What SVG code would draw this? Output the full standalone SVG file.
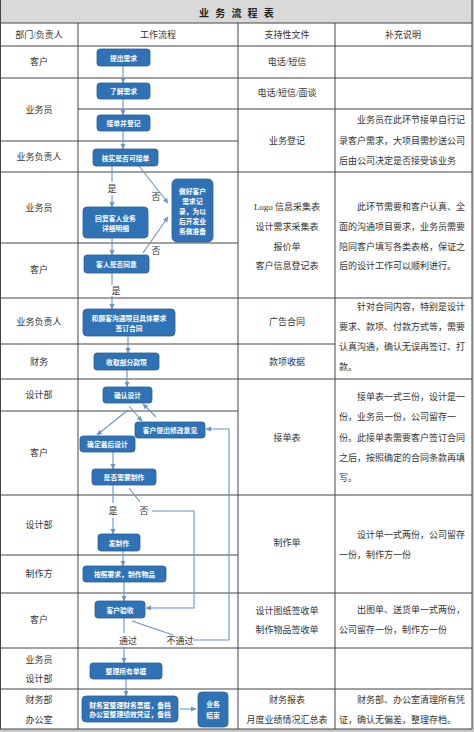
<svg xmlns="http://www.w3.org/2000/svg" width="474" height="732" viewBox="0 0 474 732">
<style>
.t{font-family:"Liberation Serif","Noto Sans CJK SC",serif;font-size:9px;fill:#333;dominant-baseline:central}
.c{text-anchor:middle}
.b rect{fill:#2f72b5;stroke:#285f98;stroke-width:0.8}
.b text{font-family:"Noto Sans CJK SC",sans-serif;font-size:6.8px;font-weight:bold;fill:#fff;text-anchor:middle;dominant-baseline:central}
.g line,.g polyline{stroke:#6b94c2;stroke-width:1.1;fill:none}
.ln{stroke:#444;stroke-width:1}
.lb{font-family:"Liberation Serif","Noto Sans CJK SC",serif;font-size:9px;fill:#333;text-anchor:middle;dominant-baseline:central}
</style>
<defs>
<marker id="ar" markerWidth="6" markerHeight="6" refX="5" refY="3" orient="auto" markerUnits="userSpaceOnUse">
<path d="M0,0.5 L5.5,3 L0,5.5 Z" fill="#6b94c2"/>
</marker>
</defs>
<rect x="0" y="0" width="474" height="732" fill="#ffffff"/>
<rect x="0" y="0" width="472" height="23" fill="#d9d9d9"/>
<rect x="472" y="0" width="2" height="732" fill="#c8c8c8"/>
<rect x="0" y="729" width="474" height="3" fill="#c8c8c8"/>
<g id="table">
<line class="ln" x1="0.5" y1="0" x2="0.5" y2="729"/>
<line class="ln" x1="0" y1="23" x2="472" y2="23"/>
<line class="ln" x1="0" y1="46" x2="472" y2="46"/>
<line class="ln" x1="0" y1="78" x2="472" y2="78"/>
<line class="ln" x1="78" y1="109" x2="472" y2="109"/>
<line class="ln" x1="0" y1="141" x2="238" y2="141"/>
<line class="ln" x1="0" y1="172" x2="472" y2="172"/>
<line class="ln" x1="0" y1="243" x2="238" y2="243"/>
<line class="ln" x1="0" y1="298" x2="472" y2="298"/>
<line class="ln" x1="0" y1="344" x2="335" y2="344"/>
<line class="ln" x1="0" y1="379" x2="472" y2="379"/>
<line class="ln" x1="0" y1="411" x2="238" y2="411"/>
<line class="ln" x1="0" y1="495" x2="472" y2="495"/>
<line class="ln" x1="0" y1="555" x2="238" y2="555"/>
<line class="ln" x1="0" y1="593" x2="472" y2="593"/>
<line class="ln" x1="0" y1="648" x2="472" y2="648"/>
<line class="ln" x1="0" y1="689" x2="472" y2="689"/>
<line class="ln" x1="0" y1="729" x2="472" y2="729"/>
<line class="ln" x1="78" y1="23" x2="78" y2="729"/>
<line class="ln" x1="238" y1="23" x2="238" y2="729"/>
<line class="ln" x1="335" y1="23" x2="335" y2="729"/>
<line class="ln" x1="472" y1="0" x2="472" y2="729"/>
</g>
<g id="title">
<text x="199" y="12" style="font-family:'Noto Sans CJK SC',sans-serif;font-size:10px;font-weight:bold;fill:#222;dominant-baseline:central;letter-spacing:6.2px">业务流程表</text>
</g>
<g id="header">
<text class="t c" x="39" y="35">部门/负责人</text>
<text class="t c" x="158" y="35">工作流程</text>
<text class="t c" x="287" y="35">支持性文件</text>
<text class="t c" x="403" y="35">补充说明</text>
</g>
<g id="departments">
<text class="t c" x="39" y="62">客户</text>
<text class="t c" x="39" y="110">业务员</text>
<text class="t c" x="39" y="157">业务负责人</text>
<text class="t c" x="39" y="208">业务员</text>
<text class="t c" x="39" y="270">客户</text>
<text class="t c" x="39" y="322">业务负责人</text>
<text class="t c" x="39" y="362">财务</text>
<text class="t c" x="39" y="395">设计部</text>
<text class="t c" x="39" y="453">客户</text>
<text class="t c" x="39" y="525">设计部</text>
<text class="t c" x="39" y="574">制作方</text>
<text class="t c" x="39" y="620">客户</text>
<text class="t c" x="39" y="660">业务员</text>
<text class="t c" x="39" y="679">设计部</text>
<text class="t c" x="39" y="700">财务部</text>
<text class="t c" x="39" y="720">办公室</text>
</g>
<g id="documents">
<text class="t c" x="287" y="62">电话/短信</text>
<text class="t c" x="287" y="93">电话/短信/面谈</text>
<text class="t c" x="287" y="141">业务登记</text>
<text class="t c" x="287" y="207">Logo 信息采集表</text>
<text class="t c" x="287" y="227">设计需求采集表</text>
<text class="t c" x="287" y="247">报价单</text>
<text class="t c" x="287" y="266">客户信息登记表</text>
<text class="t c" x="287" y="322">广告合同</text>
<text class="t c" x="287" y="362">款项收据</text>
<text class="t c" x="287" y="438">接单表</text>
<text class="t c" x="287" y="543">制作单</text>
<text class="t c" x="287" y="611">设计图纸签收单</text>
<text class="t c" x="287" y="630">制作物品签收单</text>
<text class="t c" x="287" y="700">财务报表</text>
<text class="t c" x="287" y="720">月度业绩情况汇总表</text>
</g>
<g id="notes">
<text class="t" x="357" y="120">业务员在此环节接单自行记</text>
<text class="t" x="339" y="141">录客户需求，大项目需抄送公司</text>
<text class="t" x="339" y="161">后由公司决定是否接受该业务</text>
<text class="t" x="357" y="207">此环节需要和客户认真、全</text>
<text class="t" x="339" y="227">面的沟通项目要求，业务员需要</text>
<text class="t" x="339" y="247">陪同客户填写各类表格，保证之</text>
<text class="t" x="339" y="266">后的设计工作可以顺利进行。</text>
<text class="t" x="357" y="307">针对合同内容，特别是设计</text>
<text class="t" x="339" y="327">要求、款项、付款方式等，需要</text>
<text class="t" x="339" y="347">认真沟通，确认无误再签订、打</text>
<text class="t" x="339" y="367">款。</text>
<text class="t" x="357" y="397">接单表一式三份，设计是一</text>
<text class="t" x="339" y="417">份，业务员一份，公司留存一</text>
<text class="t" x="339" y="438">份。此接单表需要客户签订合同</text>
<text class="t" x="339" y="458">之后，按照确定的合同条款再填</text>
<text class="t" x="339" y="478">写。</text>
<text class="t" x="357" y="535">设计单一式两份，公司留存</text>
<text class="t" x="339" y="555">一份，制作方一份</text>
<text class="t" x="357" y="610">出图单、送货单一式两份，</text>
<text class="t" x="339" y="630">公司留存一份，制作方一份</text>
<text class="t" x="357" y="700">财务部、办公室清理所有凭</text>
<text class="t" x="339" y="720">证，确认无偏差，整理存档。</text>
</g>
<g id="connectors" class="g">
<line x1="123" y1="66" x2="123" y2="83" marker-end="url(#ar)"/>
<line x1="123" y1="99" x2="123" y2="115" marker-end="url(#ar)"/>
<line x1="123" y1="131" x2="123" y2="149" marker-end="url(#ar)"/>
<line x1="112" y1="166" x2="112" y2="182"/>
<line x1="112" y1="195" x2="112" y2="207" marker-end="url(#ar)"/>
<line x1="139" y1="166" x2="168" y2="203" marker-end="url(#ar)"/>
<line x1="112" y1="238" x2="112" y2="255" marker-end="url(#ar)"/>
<line x1="143" y1="253" x2="168" y2="217" marker-end="url(#ar)"/>
<line x1="112" y1="273" x2="112" y2="285"/>
<line x1="112" y1="296" x2="112" y2="309" marker-end="url(#ar)"/>
<line x1="128" y1="336" x2="128" y2="353" marker-end="url(#ar)"/>
<line x1="127" y1="370" x2="127" y2="387" marker-end="url(#ar)"/>
<line x1="129" y1="406" x2="142" y2="421" marker-end="url(#ar)"/>
<line x1="156" y1="417" x2="143" y2="404" marker-end="url(#ar)"/>
<line x1="128" y1="410" x2="97" y2="435" marker-end="url(#ar)"/>
<line x1="113" y1="452" x2="113" y2="469" marker-end="url(#ar)"/>
<line x1="113" y1="485" x2="113" y2="503"/>
<line x1="113" y1="518" x2="113" y2="534" marker-end="url(#ar)"/>
<line x1="129" y1="488" x2="140" y2="502"/>
<polyline points="152,511 194,511 194,608 146,608" marker-end="url(#ar)"/>
<line x1="123" y1="551" x2="123" y2="566" marker-end="url(#ar)"/>
<line x1="124" y1="582" x2="124" y2="601" marker-end="url(#ar)"/>
<line x1="124" y1="618" x2="124" y2="633"/>
<line x1="132" y1="621" x2="173" y2="635"/>
<polyline points="193,640 229,640 229,429 206,429" marker-end="url(#ar)"/>
<line x1="124" y1="647" x2="124" y2="663" marker-end="url(#ar)"/>
<line x1="126" y1="679" x2="126" y2="696" marker-end="url(#ar)"/>
<line x1="180" y1="709" x2="196" y2="709" marker-end="url(#ar)"/>
</g>
<g id="labels">
<text class="lb" x="112" y="189">是</text>
<text class="lb" x="156" y="197">否</text>
<text class="lb" x="156" y="251">否</text>
<text class="lb" x="116" y="291">是</text>
<text class="lb" x="113" y="511">是</text>
<text class="lb" x="144" y="511">否</text>
<text class="lb" x="128" y="641">通过</text>
<text class="lb" x="180" y="641">不通过</text>
</g>
<g id="n1" class="b"><rect x="97" y="49" width="53" height="17" rx="3"/><text x="123.5" y="57.5">提出需求</text></g>
<g id="n2" class="b"><rect x="97" y="83" width="53" height="16" rx="3"/><text x="123.5" y="91">了解需求</text></g>
<g id="n3" class="b"><rect x="97" y="115" width="53" height="16" rx="3"/><text x="123.5" y="123">接单并登记</text></g>
<g id="n4" class="b"><rect x="93" y="149" width="65" height="17" rx="3"/><text x="125.5" y="157.5">核实是否可接单</text></g>
<g id="n5" class="b"><rect x="83" y="207" width="65" height="31" rx="4"/><text x="115.5" y="218">回复客人业务</text><text x="115.5" y="228">详细明细</text></g>
<g id="n6" class="b"><rect x="84" y="255" width="65" height="18" rx="3"/><text x="116.5" y="264">客人是否同意</text></g>
<g id="n7" class="b"><rect x="172" y="179" width="41" height="63" rx="5"/><text x="192.5" y="191">做好客户</text><text x="192.5" y="201">需求记</text><text x="192.5" y="211">录，为以</text><text x="192.5" y="221">后开发业</text><text x="192.5" y="231">务做准备</text></g>
<g id="n8" class="b"><rect x="83" y="309" width="92" height="27" rx="4"/><text x="129" y="318">和顾客沟通项目具体要求</text><text x="129" y="328">签订合同</text></g>
<g id="n9" class="b"><rect x="94" y="353" width="65" height="17" rx="3"/><text x="126.5" y="361.5">收取部分款项</text></g>
<g id="n10" class="b"><rect x="103" y="387" width="49" height="16" rx="3"/><text x="127.5" y="395">确认设计</text></g>
<g id="n11" class="b"><rect x="135" y="422" width="70" height="16" rx="3"/><text x="170" y="430">客户提出修改意见</text></g>
<g id="n12" class="b"><rect x="80" y="436" width="55" height="16" rx="3"/><text x="107.5" y="444">确定最后设计</text></g>
<g id="n13" class="b"><rect x="92" y="469" width="64" height="16" rx="3"/><text x="124" y="477">是否需要制作</text></g>
<g id="n14" class="b"><rect x="98" y="534" width="42" height="17" rx="3"/><text x="119" y="542.5">发制作</text></g>
<g id="n15" class="b"><rect x="83" y="566" width="83" height="16" rx="3"/><text x="124.5" y="574">按照要求，制作物品</text></g>
<g id="n16" class="b"><rect x="95" y="601" width="50" height="17" rx="3"/><text x="120" y="609.5">客户验收</text></g>
<g id="n17" class="b"><rect x="90" y="663" width="72" height="16" rx="3"/><text x="126" y="671">整理所有单据</text></g>
<g id="n18" class="b"><rect x="82" y="696" width="96" height="26" rx="4"/><text x="130" y="704.5">财务室整理财务票据，备档</text><text x="130" y="714">办公室整理绩效凭证，备档</text></g>
<g id="n19" class="b"><rect x="198" y="692" width="30" height="35" rx="4"/><text x="213" y="703.5">业务</text><text x="213" y="715">结束</text></g>
</svg>
